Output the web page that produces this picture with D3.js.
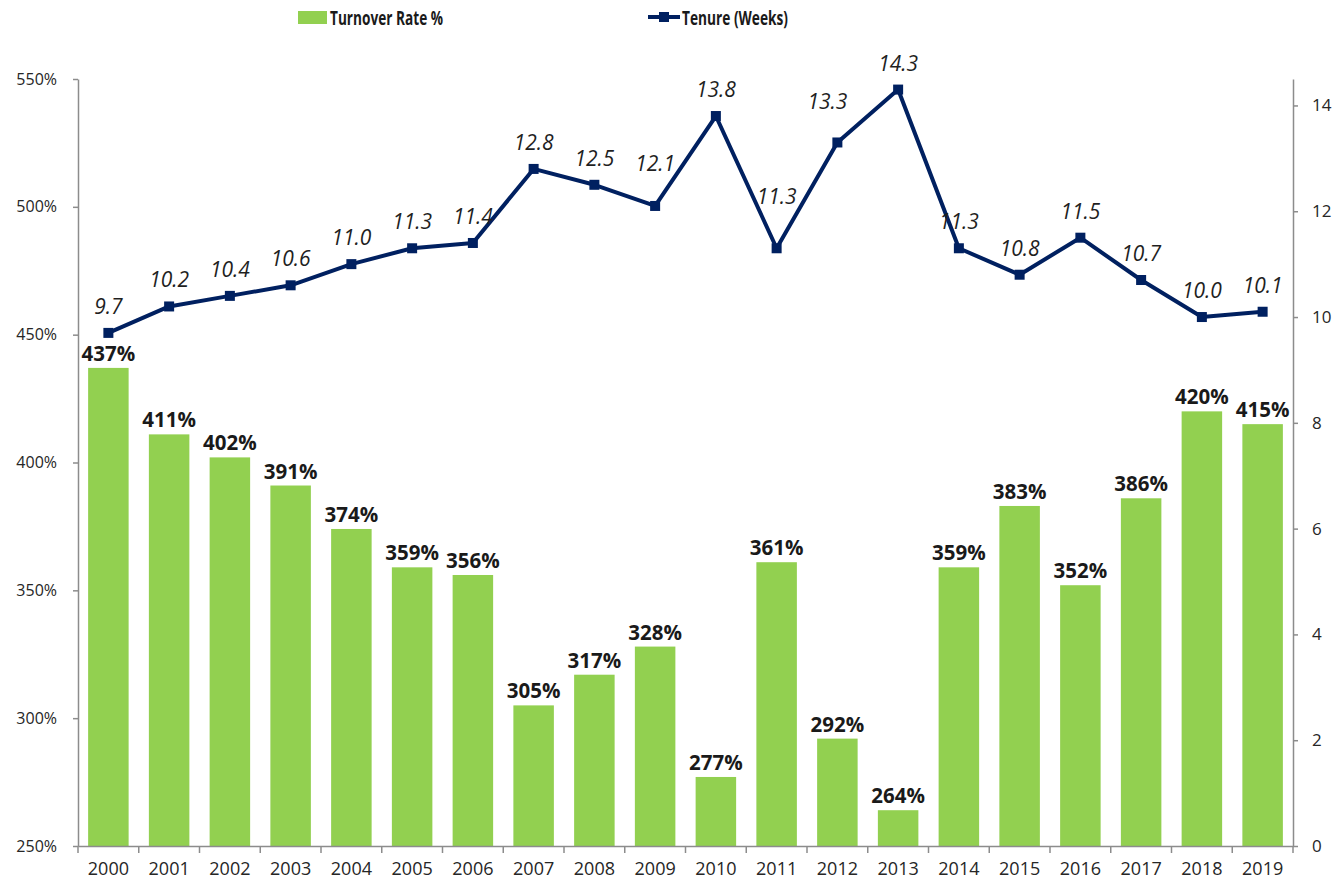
<!DOCTYPE html>
<html>
<head>
<meta charset="utf-8">
<script src="https://cdn.jsdelivr.net/npm/d3@7"></script>
<style>
  body { margin: 0; background: #fff; }
  svg { display: block; font-family: "Open Sans", sans-serif; }
</style>
</head>
<body>
<svg id="chart"></svg>
<script>
const years = ["2000","2001","2002","2003","2004","2005","2006","2007","2008","2009",
               "2010","2011","2012","2013","2014","2015","2016","2017","2018","2019"];
const turnover = [437, 411, 402, 391, 374, 359, 356, 305, 317, 328,
                  277, 361, 292, 264, 359, 383, 352, 386, 420, 415];
const tenure = [9.7, 10.2, 10.4, 10.6, 11.0, 11.3, 11.4, 12.8, 12.5, 12.1,
                13.8, 11.3, 13.3, 14.3, 11.3, 10.8, 11.5, 10.7, 10.0, 10.1];
const leftTicks = [250, 300, 350, 400, 450, 500, 550];
const rightTicks = [0, 2, 4, 6, 8, 10, 12, 14];

const W = 1343, H = 888;
const margin = {top: 79, right: 50, bottom: 42, left: 78};
const green = "#92D050", navy = "#002060", axisGrey = "#8c8c8c";

// labels Excel had dragged off their default spot
const labelNudge = {"2009": [0, -16], "2011": [0, -25], "2012": [-10, -14]};

const svg = d3.select("#chart").attr("width", W).attr("height", H);

const x = d3.scaleBand().domain(years)
            .range([margin.left, W - margin.right])
            .paddingInner(1/3).paddingOuter(1/6);
const yL = d3.scaleLinear().domain([250, 550]).range([H - margin.bottom, margin.top]);
const yR = d3.scaleLinear().domain([0, 14.5]).range([H - margin.bottom, margin.top]);
const cx = d => x(d) + x.bandwidth() / 2;

// bars
svg.append("g").selectAll("rect")
   .data(turnover)
   .join("rect")
   .attr("x", (d, i) => x(years[i]))
   .attr("width", x.bandwidth())
   .attr("y", d => yL(d))
   .attr("height", d => yL(250) - yL(d))
   .attr("fill", green);

svg.append("g").selectAll("text")
   .data(turnover)
   .join("text")
   .attr("x", (d, i) => cx(years[i]))
   .attr("y", d => yL(d) - 7)
   .attr("text-anchor", "middle")
   .style("font-size", "20.5px")
   .style("font-weight", "bold")
   .attr("fill", "#1a1a1a")
   .text(d => d + "%");

// axes
const axisL = svg.append("g")
   .attr("transform", `translate(${margin.left},0)`)
   .call(d3.axisLeft(yL).tickValues(leftTicks).tickFormat(d => d + "%").tickSize(5).tickSizeOuter(0).tickPadding(16));
const axisR = svg.append("g")
   .attr("transform", `translate(${W - margin.right},0)`)
   .call(d3.axisRight(yR).tickValues(rightTicks).tickSize(5).tickSizeOuter(0).tickPadding(14));
const axisB = svg.append("g")
   .attr("transform", `translate(0,${H - margin.bottom})`)
   .call(d3.axisBottom(x).tickSize(0).tickSizeOuter(0).tickPadding(16));

// category boundary ticks on the x axis
const step = x.step();
axisB.selectAll("line.bound")
   .data(d3.range(years.length + 1))
   .join("line")
   .attr("class", "bound")
   .attr("x1", i => margin.left + i * step)
   .attr("x2", i => margin.left + i * step)
   .attr("y1", 0).attr("y2", 7)
   .attr("stroke", axisGrey).attr("stroke-width", 1.5);

[axisL, axisR, axisB].forEach(a => {
  a.selectAll(".domain").attr("stroke", axisGrey).attr("stroke-width", 1.5);
  a.selectAll(".tick line").attr("stroke", axisGrey).attr("stroke-width", 1.5);
  a.selectAll("text").attr("fill", "#262626").style("font-family", "'Open Sans', sans-serif");
});
axisL.selectAll("text").style("font-size", "16px");
axisR.selectAll("text").style("font-size", "17px");
axisB.selectAll("text").style("font-size", "18px");

// tenure line
const line = d3.line().x((d, i) => cx(years[i])).y(d => yR(d));
svg.append("path")
   .datum(tenure)
   .attr("d", line)
   .attr("fill", "none")
   .attr("stroke", navy)
   .attr("stroke-width", 4)
   .attr("stroke-linejoin", "round");

svg.append("g").selectAll("rect")
   .data(tenure)
   .join("rect")
   .attr("x", (d, i) => cx(years[i]) - 5)
   .attr("y", d => yR(d) - 5)
   .attr("width", 10).attr("height", 10)
   .attr("fill", navy);

svg.append("g").selectAll("text")
   .data(tenure)
   .join("text")
   .attr("x", (d, i) => cx(years[i]) + (labelNudge[years[i]] || [0, 0])[0])
   .attr("y", (d, i) => yR(d) - 19 + (labelNudge[years[i]] || [0, 0])[1])
   .attr("text-anchor", "middle")
   .style("font-size", "21px")
   .style("font-style", "italic")
   .attr("fill", "#1f1f1f")
   .text(d => d.toFixed(1));

// legend
const legend = svg.append("g").style("font-family", "'Open Sans', sans-serif")
   .style("font-size", "19.5px").style("font-weight", "bold").attr("fill", "#1a1a1a");
legend.append("rect").attr("x", 298).attr("y", 11).attr("width", 29).attr("height", 13).attr("fill", green);
legend.append("text").attr("x", 330).attr("y", 25)
   .attr("textLength", 113).attr("lengthAdjust", "spacingAndGlyphs").text("Turnover Rate %");
legend.append("line").attr("x1", 648).attr("x2", 680).attr("y1", 17).attr("y2", 17)
   .attr("stroke", navy).attr("stroke-width", 4);
legend.append("rect").attr("x", 659).attr("y", 12).attr("width", 10).attr("height", 10).attr("fill", navy);
legend.append("text").attr("x", 682).attr("y", 25)
   .attr("textLength", 106).attr("lengthAdjust", "spacingAndGlyphs").text("Tenure (Weeks)");
</script>
</body>
</html>
